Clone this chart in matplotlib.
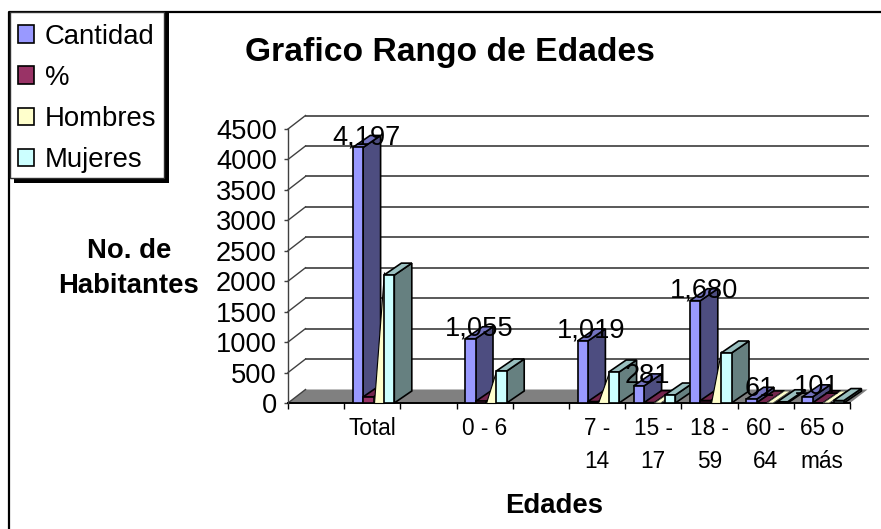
import matplotlib
matplotlib.use('Agg')
import matplotlib.pyplot as plt
from matplotlib.patches import Patch, Rectangle
from matplotlib.lines import Line2D

plt.rcParams['font.family'] = ['Liberation Sans', 'DejaVu Sans']

W, H = 881, 529

# data (blank slots are empty categories in the original sheet)
categories = ['', 'Total', '', '0 - 6', '', '7 -\n14', '15 -\n17', '18 -\n59', '60 -\n64', '65 o\nmás']
slots = [1, 3, 5, 6, 7, 8, 9]
cantidad = [4197, 1055, 1019, 281, 1680, 61, 101]
porcentaje = [100, 25, 24, 6.7, 40, 1.5, 2.4]
hombres = [2150, 530, 510, 150, 860, 41, 61]
mujeres = [2100, 525, 509, 131, 821, 20, 40]
value_labels = ['4,197', '1,055', '1,019', '281', '1,680', '61', '101']
y_ticks = [0, 500, 1000, 1500, 2000, 2500, 3000, 3500, 4000, 4500]

names = ['Cantidad', '%', 'Hombres', 'Mujeres']
front_colors = ['#9999FF', '#993366', '#FFFFCC', '#CCFFFF']
side_colors = ['#4D4D80', '#4D1A33', '#808066', '#668080']
top_colors = ['#7373BF', '#73264D', '#BFBF99', '#99BFBF']

fig = plt.figure(figsize=(W / 100, H / 100), dpi=100)
ax = fig.add_axes([288 / W, (H - 403) / H, 562 / W, 274 / H])
ax.set_xlim(0, 10)
ax.set_ylim(0, 4500)
ax.patch.set_visible(False)

# wall depth and bar depth, in data units
wall_dx = 17.5 / 56.2
wall_dy = 13.5 / 274 * 4500
bar_dx = 17.5 / 56.2
bar_dy = 12 / 274 * 4500
bar_w = 10.4 / 56.2
bar_start = 8.5 / 56.2

# floor and walls
ax.fill([0, 10, 10 + wall_dx, wall_dx], [0, 0, wall_dy, wall_dy], color='#808080', lw=0, zorder=1, clip_on=False)
for v in y_ticks:
    if v > 0:
        ax.plot([wall_dx, 10 + wall_dx], [v + wall_dy, v + wall_dy], color='#585858', lw=1.4, zorder=1, clip_on=False)
    ax.plot([0, wall_dx], [v, v + wall_dy], color='#404040', lw=1.0, zorder=1, clip_on=False)


def draw_bar(x, v, i, z):
    ax.fill([x + bar_w, x + bar_w + bar_dx, x + bar_w + bar_dx, x + bar_w],
            [0, bar_dy, v + bar_dy, v], fc=side_colors[i], ec='black', lw=1.2, zorder=z, clip_on=False)
    ax.fill([x, x + bar_w, x + bar_w + bar_dx, x + bar_dx],
            [v, v, v + bar_dy, v + bar_dy], fc=top_colors[i], ec='black', lw=1.2, zorder=z, clip_on=False)
    ax.bar(x, v, width=bar_w, align='edge', color=front_colors[i], edgecolor='black', lw=1.2, zorder=z, clip_on=False)


for k, s in enumerate(slots):
    z = 3 + k * 5
    draw_bar(s + bar_start, cantidad[k], 0, z)
    draw_bar(s + bar_start + bar_w, porcentaje[k], 1, z + 1)
    # Hombres only shows as a sliver next to Mujeres, on the low bars a thin diagonal
    hx = s + bar_start + 2 * bar_w
    if hombres[k] < 200:
        ax.fill([hx, hx + bar_w * 0.6, hx + bar_w * 0.6 + bar_dx, hx + bar_dx], [0, 0, bar_dy, bar_dy],
                fc=front_colors[2], ec='#404040', lw=0.6, zorder=z + 2, clip_on=False)
    else:
        ax.fill([hx, hx + bar_w, hx + bar_w], [0, 0, hombres[k]],
                fc=front_colors[2], ec='black', lw=0.8, zorder=z + 2, clip_on=False)
    draw_bar(s + bar_start + 3 * bar_w, mujeres[k], 3, z + 3)

for k, s in enumerate(slots):
    ax.text(s + bar_start + bar_w + bar_dx * 0.21, cantidad[k] - bar_dy * 0.25, value_labels[k],
            ha='center', va='bottom', fontsize=19.6, color='black', zorder=60, clip_on=False, linespacing=1)

# axes
for name in ['top', 'right']:
    ax.spines[name].set_visible(False)
ax.spines['left'].set_color('#404040')
ax.spines['left'].set_linewidth(1.0)
ax.spines['bottom'].set_color('black')
ax.spines['bottom'].set_linewidth(1.4)
ax.spines['bottom'].set_zorder(2)
ax.set_yticks(y_ticks)
ax.tick_params(axis='y', length=3, width=1, color='#404040', labelsize=19.6, pad=5)
ax.set_xticks(range(0, 11))
ax.set_xticklabels([])
ax.set_xticks([i + 0.5 for i in range(10)], categories, minor=True)
ax.tick_params(axis='x', which='major', length=4, width=1, color='black')
ax.tick_params(axis='x', which='minor', length=0, labelsize=16.3, pad=10)
for t in ax.get_xticklabels(minor=True):
    t.set_linespacing(1.55)

# figure border, top and left only
fig.add_artist(Line2D([8.5 / W, 8.5 / W, 1], [0, (H - 11.5) / H, (H - 11.5) / H], color='black', lw=1.6))

fig.text(449.5 / W, (H - 61) / H, 'Grafico Rango de Edades', ha='center', va='baseline', fontsize=24.2, fontweight='bold')
fig.text(129 / W, (H - 258) / H, 'No. de', ha='center', va='baseline', fontsize=19.8, fontweight='bold')
fig.text(129 / W, (H - 293) / H, 'Habitantes', ha='center', va='baseline', fontsize=19.8, fontweight='bold')
fig.text(554 / W, (H - 513) / H, 'Edades', ha='center', va='baseline', fontsize=19.8, fontweight='bold')

# legend box with hard black shadow
fig.add_artist(Rectangle((14 / W, (H - 183) / H), 155 / W, 170 / H, fc='black', ec='none', zorder=8))
fig.add_artist(Rectangle((9.5 / W, (H - 178) / H), 154 / W, 166 / H, fc='white', ec='#303030', lw=1.0, zorder=8.5))
handles = [Patch(fc=c, ec='black', lw=1.2, label=n) for c, n in zip(front_colors, names)]
leg = fig.legend(handles=handles, loc='upper left', bbox_to_anchor=(9.5 / W, (H - 15.5) / H), bbox_transform=fig.transFigure,
                 fontsize=19.8, frameon=False, borderpad=0.3, borderaxespad=0,
                 handlelength=0.6, handleheight=0.6, handletextpad=0.38, labelspacing=0.55)
leg.set_zorder(9)

fig.savefig('out.png', dpi=100)
